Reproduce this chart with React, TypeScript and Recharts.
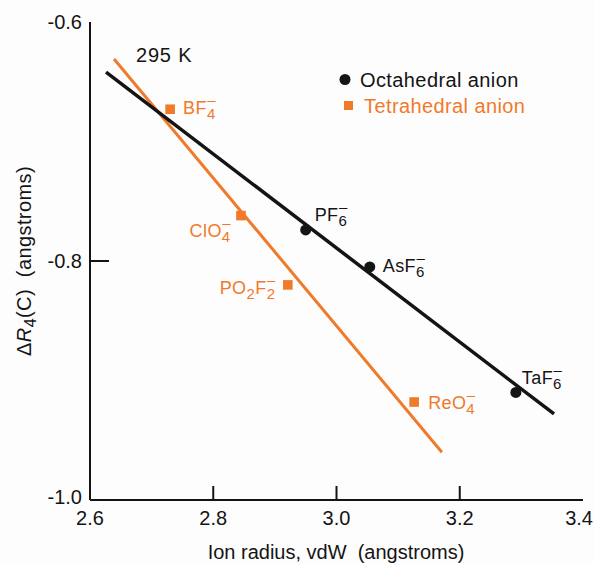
import React from 'react';
import { ScatterChart, Scatter, XAxis, YAxis } from 'recharts';

const INK = '#141414';
const ORANGE = '#f07a2a';
const FONT = '"Liberation Sans", Arial, Helvetica, sans-serif';

// axis ticks
const xTicks = [2.6, 2.8, 3.0, 3.2, 3.4];
const yTicks = [-1.0, -0.8, -0.6];

// octahedral anions (circles)
const octNames = ['PF6', 'AsF6', 'TaF6'];
const octX = [2.95, 3.054, 3.291];
const octY = [-0.774, -0.805, -0.91];

// tetrahedral anions (squares)
const tetNames = ['BF4', 'ClO4', 'PO2F2', 'ReO4'];
const tetX = [2.73, 2.845, 2.921, 3.126];
const tetY = [-0.673, -0.762, -0.82, -0.918];

// fitted lines
const octFitX = [2.626, 3.353];
const octFitY = [-0.642, -0.928];
const tetFitX = [2.639, 3.171];
const tetFitY = [-0.631, -0.96];

const zip = (xs: number[], ys: number[], names?: string[]) =>
  xs.map((x, i) => ({ x, y: ys[i], name: names ? names[i] : '' }));

const octData = zip(octX, octY, octNames);
const tetData = zip(tetX, tetY, tetNames);
const octFit = zip(octFitX, octFitY);
const tetFit = zip(tetFitX, tetFitY);

type Part = { t?: string; s?: string; m?: boolean };

const formulas: Record<string, Part[]> = {
  PF6: [{ t: 'PF' }, { s: '6', m: true }],
  AsF6: [{ t: 'AsF' }, { s: '6', m: true }],
  TaF6: [{ t: 'TaF' }, { s: '6', m: true }],
  BF4: [{ t: 'BF' }, { s: '4', m: true }],
  ClO4: [{ t: 'ClO' }, { s: '4', m: true }],
  PO2F2: [{ t: 'PO' }, { s: '2' }, { t: 'F' }, { s: '2', m: true }],
  ReO4: [{ t: 'ReO' }, { s: '4', m: true }],
};

const labelPos: Record<string, { dx: number; dy: number; anchor: 'start' | 'end' }> = {
  PF6: { dx: 9, dy: -9, anchor: 'start' },
  AsF6: { dx: 13, dy: 5, anchor: 'start' },
  TaF6: { dx: 6, dy: -8, anchor: 'start' },
  BF4: { dx: 13, dy: 5, anchor: 'start' },
  ClO4: { dx: -10, dy: 21, anchor: 'end' },
  PO2F2: { dx: -12, dy: 9, anchor: 'end' },
  ReO4: { dx: 14, dy: 7, anchor: 'start' },
};

const SUB = 5;
const SUP = -9;
const SUBSIZE = 15;

function Formula({ name, x, y, anchor, color }: any) {
  const parts = formulas[name] || [];
  let off = 0;
  const spans: React.ReactNode[] = [];
  parts.forEach((p, i) => {
    if (p.t) {
      spans.push(
        <tspan key={i + 't'} dy={-off}>
          {p.t}
        </tspan>
      );
      off = 0;
    } else if (p.s) {
      spans.push(
        <tspan key={i + 's'} dy={SUB - off} fontSize={SUBSIZE}>
          {p.s}
        </tspan>
      );
      off = SUB;
      if (p.m) {
        spans.push(
          <tspan key={i + 'm'} dx={-SUBSIZE * 0.556} dy={SUP - off} fontSize={SUBSIZE}>
            {'\u2013'}
          </tspan>
        );
        off = SUP;
      }
    }
  });
  return (
    <text x={x} y={y} textAnchor={anchor} fill={color} fontSize={18} letterSpacing={0.4} fontFamily={FONT}>
      {spans}
    </text>
  );
}

const OctPoint = (p: any) => {
  const name = p.payload?.name;
  const lp = labelPos[name];
  return (
    <g>
      <circle cx={p.cx} cy={p.cy} r={5.5} fill={INK} />
      {lp && <Formula name={name} x={p.cx + lp.dx} y={p.cy + lp.dy} anchor={lp.anchor} color={INK} />}
    </g>
  );
};

const TetPoint = (p: any) => {
  const name = p.payload?.name;
  const lp = labelPos[name];
  return (
    <g>
      <rect x={p.cx - 4.8} y={p.cy - 4.8} width={9.6} height={9.6} fill={ORANGE} />
      {lp && <Formula name={name} x={p.cx + lp.dx} y={p.cy + lp.dy} anchor={lp.anchor} color={ORANGE} />}
    </g>
  );
};

const isInnerX = (v: number) => v > 2.61 && v < 3.39;
const isInnerY = (v: number) => v > -0.99 && v < -0.61;

const BottomTick = ({ x, y, payload }: any) => {
  const last = payload.value > 3.39;
  return (
    <g>
      {isInnerX(payload.value) && <line x1={x} x2={x} y1={y} y2={y - 14} stroke={INK} strokeWidth={2} />}
      <text
        x={last ? x + 10 : x}
        y={y + 25}
        textAnchor={last ? 'end' : 'middle'}
        fontSize={20}
        fill={INK}
        fontFamily={FONT}
      >
        {Number(payload.value).toFixed(1)}
      </text>
    </g>
  );
};

const TopTick = ({ x, y, payload }: any) =>
  isInnerX(payload.value) ? <line x1={x} x2={x} y1={y} y2={y + 15} stroke={INK} strokeWidth={2} /> : <g />;

const LeftTick = ({ x, y, payload }: any) => (
  <g>
    {isInnerY(payload.value) && <line x1={x} x2={x + 19} y1={y} y2={y} stroke={INK} strokeWidth={2} />}
    <text x={x - 8} y={payload.value < -0.99 ? y + 4 : y + 7} textAnchor="end" fontSize={20} fill={INK} fontFamily={FONT}>
      {Number(payload.value).toFixed(1)}
    </text>
  </g>
);

const RightTick = ({ x, y, payload }: any) =>
  isInnerY(payload.value) ? <line x1={x} x2={x - 19} y1={y} y2={y} stroke={INK} strokeWidth={2} /> : <g />;

const axisLine = { stroke: INK, strokeWidth: 2 };

export default function App() {
  return (
    <div style={{ position: 'absolute', left: 0, top: 0, background: '#fefdfe', fontFamily: FONT }}>
      <ScatterChart width={594} height={563} margin={{ top: 22, right: 11, bottom: 0, left: 0 }}>
        <XAxis
          dataKey="x"
          type="number"
          domain={[2.6, 3.4]}
          ticks={xTicks}
          interval={0}
          height={63}
          tickSize={0}
          tickMargin={0}
          axisLine={axisLine}
          tickLine={false}
          tick={(p: any) => <BottomTick {...p} />}
        />
        <XAxis
          xAxisId="top"
          orientation="top"
          dataKey="x"
          type="number"
          domain={[2.6, 3.4]}
          ticks={xTicks}
          interval={0}
          height={0}
          tickSize={0}
          tickMargin={0}
          axisLine={axisLine}
          tickLine={false}
          tick={(p: any) => <TopTick {...p} />}
        />
        <YAxis
          dataKey="y"
          type="number"
          domain={[-1.0, -0.6]}
          ticks={yTicks}
          interval={0}
          width={90}
          tickSize={0}
          tickMargin={0}
          axisLine={axisLine}
          tickLine={false}
          tick={(p: any) => <LeftTick {...p} />}
        />
        <YAxis
          yAxisId="right"
          orientation="right"
          dataKey="y"
          type="number"
          domain={[-1.0, -0.6]}
          ticks={yTicks}
          interval={0}
          width={0}
          tickSize={0}
          tickMargin={0}
          axisLine={axisLine}
          tickLine={false}
          tick={(p: any) => <RightTick {...p} />}
        />
        <Scatter
          data={tetFit}
          line={{ stroke: ORANGE, strokeWidth: 3 }}
          shape={() => <g />}
          isAnimationActive={false}
        />
        <Scatter
          data={octFit}
          line={{ stroke: INK, strokeWidth: 3.5 }}
          shape={() => <g />}
          isAnimationActive={false}
        />
        <Scatter data={tetData} shape={(p: any) => <TetPoint {...p} />} isAnimationActive={false} />
        <Scatter data={octData} shape={(p: any) => <OctPoint {...p} />} isAnimationActive={false} />

        <text x={136} y={62} fontSize={20} fill={INK} letterSpacing={0.8} fontFamily={FONT}>
          295 K
        </text>
        <circle cx={345} cy={79.5} r={5.5} fill={INK} />
        <text x={360} y={87} fontSize={20} fill={INK} letterSpacing={0.4} fontFamily={FONT}>
          Octahedral anion
        </text>
        <rect x={344} y={101} width={9} height={9} fill={ORANGE} />
        <text x={364} y={113} fontSize={20} fill={ORANGE} letterSpacing={0.4} fontFamily={FONT}>
          Tetrahedral anion
        </text>
        <text x={336} y={559} textAnchor="middle" fontSize={20} fill={INK} fontFamily={FONT} xmlSpace="preserve">
          Ion radius, vdW  (angstroms)
        </text>
        <text
          x={31}
          y={261}
          transform="rotate(-90 31 261)"
          textAnchor="middle"
          fontSize={20}
          fill={INK}
          letterSpacing={0.4}
          fontFamily={FONT}
          xmlSpace="preserve"
        >
          <tspan>Δ</tspan>
          <tspan fontStyle="italic">R</tspan>
          <tspan dy={5} fontSize={16}>4</tspan>
          <tspan dy={-5}>(C)  (angstroms)</tspan>
        </text>
      </ScatterChart>
    </div>
  );
}
